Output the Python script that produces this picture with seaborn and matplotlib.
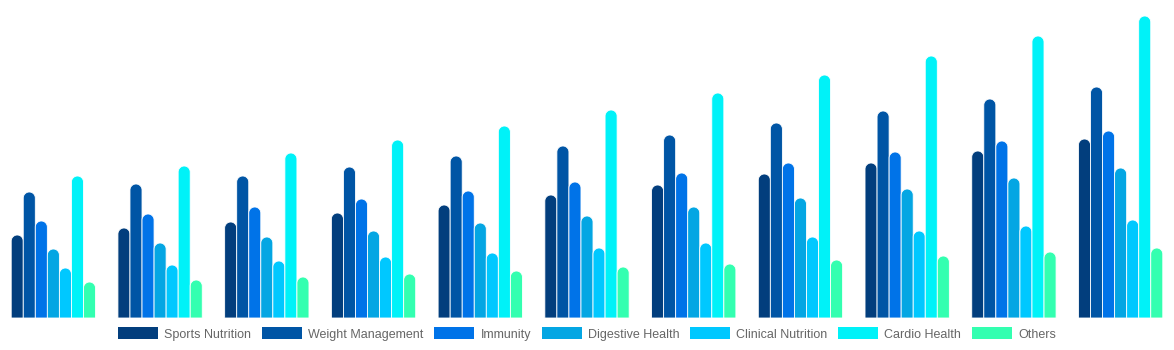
import matplotlib
matplotlib.use("Agg")
import matplotlib.pyplot as plt
import seaborn as sns
import pandas as pd
import numpy as np
from matplotlib.patches import PathPatch, Patch
from matplotlib.path import Path

# ---- data ----
categories = ["2020", "2021", "2022", "2023", "2024", "2025",
              "2026", "2027", "2028", "2029", "2030"]
series_names = ["Sports Nutrition", "Weight Management", "Immunity",
                "Digestive Health", "Clinical Nutrition", "Cardio Health", "Others"]
sports_nutrition   = [83, 90, 96, 105, 113, 123, 133, 144, 155, 167, 179]
weight_management  = [126, 134, 142, 151, 162, 172, 183, 195, 207, 219, 231]
immunity           = [97, 104, 111, 119, 127, 136, 145, 155, 166, 177, 187]
digestive_health   = [69, 75, 81, 87, 95, 102, 111, 120, 129, 140, 150]
clinical_nutrition = [50, 53, 57, 61, 65, 70, 75, 81, 87, 92, 98]
cardio_health      = [142, 152, 165, 178, 192, 208, 225, 243, 262, 282, 302]
others             = [36, 38, 41, 44, 47, 51, 54, 58, 62, 66, 70]
colors = ["#023e7d", "#0055a5", "#0073e8", "#04a6e3", "#00c8ff", "#00f2f8", "#33ffb0"]

series_values = [sports_nutrition, weight_management, immunity, digestive_health,
                 clinical_nutrition, cardio_health, others]
rows = []
for name, vals in zip(series_names, series_values):
    for cat, v in zip(categories, vals):
        rows.append({"category": cat, "segment": name, "value": v})
df = pd.DataFrame(rows)

sns.set_theme(style="white")
plt.rcParams["font.family"] = ["Liberation Sans", "DejaVu Sans"]

W, H = 1174, 350
fig = plt.figure(figsize=(W / 100, H / 100), dpi=100)
ax_h_px = 306
ax = fig.add_axes([0, 32 / H, 1, ax_h_px / H])

sns.barplot(data=df, x="category", y="value", hue="segment", hue_order=series_names,
            palette=colors, width=0.79, saturation=1, ax=ax, legend=False,
            order=categories)
ax.set_xlim(-0.5, len(categories) - 0.5)
ax.set_ylim(0, ax_h_px)
ax.axis("off")

# rounded (semicircular) tops
px_per_x = W / len(categories)
px_per_y = 1.0
aspect = px_per_x / px_per_y
theta = np.linspace(np.pi, 0, 32)
bars = [p for p in ax.patches]
for p in bars:
    x, w, h = p.get_x(), p.get_width(), p.get_height()
    fc = p.get_facecolor()
    p.remove()
    r = w / 2
    ry = r * aspect
    cx = x + r
    cy = h - ry
    verts = [(x, 0), (x, cy)]
    verts += [(cx + r * np.cos(t), cy + ry * np.sin(t)) for t in theta]
    verts += [(x + w, 0), (x, 0)]
    codes = [Path.MOVETO] + [Path.LINETO] * (len(verts) - 2) + [Path.CLOSEPOLY]
    ax.add_patch(PathPatch(Path(verts, codes), facecolor=fc,
                           edgecolor="white", linewidth=0.6))

handles = [Patch(facecolor=c, edgecolor="none", label=n) for c, n in zip(colors, series_names)]
fig.legend(handles=handles, loc="center", bbox_to_anchor=(0.5, 16 / H), ncol=7,
           frameon=False, fontsize=9, handlelength=3.2, handleheight=1.05,
           handletextpad=0.5, columnspacing=0.85, labelcolor="#666666")

fig.savefig("out.png", dpi=100)
